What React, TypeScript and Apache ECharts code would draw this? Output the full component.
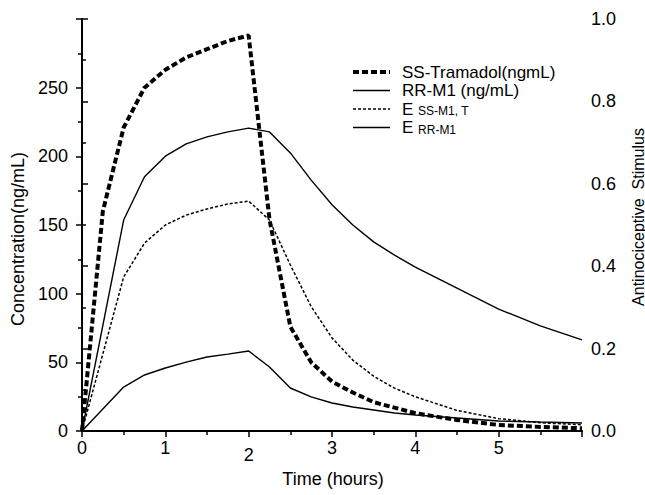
import React, { useEffect, useRef } from "react";
import * as echarts from "echarts";

const tramadolTimes = [0, 0.25, 0.5, 0.75, 1, 1.25, 1.5, 1.75, 2, 2.25, 2.5, 2.75, 3, 3.25, 3.5, 3.75, 4, 4.5, 5, 5.5, 6];
const tramadolConc = [0, 160, 221, 250, 263, 272, 278, 284, 288, 154, 76, 50, 36, 28, 21, 17, 13, 8, 4.4, 3, 2];

const times = [0, 0.5, 0.75, 1, 1.25, 1.5, 1.75, 2, 2.25, 2.5, 2.75, 3, 3.25, 3.5, 3.75, 4, 4.5, 5, 5.5, 6];
const rrM1Conc = [0, 32, 40.8, 45.9, 50.2, 53.9, 56, 58.3, 46.6, 31.3, 24.8, 20.4, 17.5, 15.3, 13.1, 11.6, 9.5, 7.3, 6.5, 5.8];
const eSSM1T = [0, 0.374, 0.456, 0.5, 0.524, 0.539, 0.551, 0.558, 0.512, 0.403, 0.302, 0.226, 0.172, 0.133, 0.104, 0.083, 0.05, 0.03, 0.02, 0.015];
const eRRM1 = [0, 0.512, 0.617, 0.667, 0.697, 0.714, 0.726, 0.735, 0.726, 0.675, 0.609, 0.549, 0.5, 0.459, 0.427, 0.398, 0.347, 0.296, 0.255, 0.221];

const xTickLabels = ["0", "1", "2", "3", "4", "5"];
const leftTickLabels = ["0", "50", "100", "150", "200", "250"];
const rightTickLabels = ["0.0", "0.2", "0.4", "0.6", "0.8", "1.0"];

const xTitle = "Time (hours)";
const leftTitle = "Concentration(ng/mL)";
const rightTitle = "Antinociceptive  Stimulus";

const FONT = "Liberation Sans, Arial, sans-serif";

export default function App() {
  const ref = useRef<HTMLDivElement>(null);
  useEffect(() => {
    if (!ref.current) return;
    const chart = echarts.init(ref.current, undefined, { renderer: "svg" });
    const pair = (xs: number[], ys: number[]) => xs.map((x, i) => [x, ys[i]]);
    const axisCommon = {
      axisLine: { show: true, lineStyle: { color: "#000", width: 2 } },
      axisTick: { show: true, inside: false, length: 6, lineStyle: { color: "#000", width: 1.5 } },
      minorTick: { show: true, splitNumber: 2, length: 4, lineStyle: { color: "#000", width: 1.5 } },
      splitLine: { show: false },
    };
    const legendRows = [
      { y: 72, dash: [6, 3], width: 4, text: "SS-Tramadol(ngmL)", sub: "" },
      { y: 90.5, dash: null, width: 1.3, text: "RR-M1 (ng/mL)", sub: "" },
      { y: 109, dash: [3, 2], width: 1.4, text: "E ", sub: "SS-M1, T" },
      { y: 127.5, dash: null, width: 1.3, text: "E ", sub: "RR-M1" },
    ];
    const graphics: any[] = [];
    legendRows.forEach((r) => {
      graphics.push({
        type: "line",
        shape: { x1: 353, y1: r.y, x2: 390, y2: r.y },
        style: { stroke: "#000", lineWidth: r.width, lineDash: r.dash || undefined },
      });
      graphics.push({
        type: "text",
        x: 402,
        y: r.y,
        style: {
          text: r.sub ? `{m|${r.text}}{s|${r.sub}}` : `{m|${r.text}}`,
          verticalAlign: "middle",
          rich: {
            m: { fontSize: 17, fontFamily: FONT, fill: "#000", lineHeight: 15 },
            s: { fontSize: 12, fontFamily: FONT, fill: "#000", lineHeight: 11, padding: [4, 0, 0, 0] },
          },
        },
      });
    });
    graphics.push({
      type: "text",
      x: 333,
      y: 479,
      style: { text: xTitle, fontSize: 18, fontFamily: FONT, fill: "#000", align: "center", verticalAlign: "middle" },
    });
    graphics.push({
      type: "text",
      x: 18,
      y: 239,
      rotation: Math.PI / 2,
      style: { text: leftTitle, fontSize: 18, fontFamily: FONT, fill: "#000", align: "center", verticalAlign: "middle" },
    });
    graphics.push({
      type: "text",
      x: 638,
      y: 217,
      rotation: Math.PI / 2,
      style: { text: rightTitle, fontSize: 16, fontFamily: FONT, fill: "#000", align: "center", verticalAlign: "middle" },
    });
    chart.setOption({
      animation: false,
      backgroundColor: "#fff",
      grid: { left: 82, right: 63, top: 19, bottom: 64, containLabel: false },
      xAxis: [
        {
          type: "value",
          min: 0,
          max: 6,
          interval: 1,
          position: "bottom",
          ...axisCommon,
          axisLabel: {
            fontSize: 18,
            fontFamily: FONT,
            color: "#000",
            margin: 8,
            formatter: (v: number) => {
              const s = xTickLabels[Math.round(v)];
              if (s === undefined) return "";
              return s === "2" ? `{low|${s}}` : s;
            },
            rich: { low: { fontSize: 18, fontFamily: FONT, color: "#000", padding: [7, 0, 0, 0] } },
          },
        },
        {
          type: "value",
          min: 0,
          max: 6,
          position: "top",
          axisLine: { show: true, lineStyle: { color: "#000", width: 2 } },
          axisTick: { show: false },
          axisLabel: { show: false },
          splitLine: { show: false },
        },
      ],
      yAxis: [
        {
          type: "value",
          min: 0,
          max: 300,
          interval: 50,
          position: "left",
          ...axisCommon,
          axisLabel: {
            fontSize: 18,
            fontFamily: FONT,
            color: "#000",
            margin: 14,
            formatter: (v: number) => leftTickLabels[Math.round(v / 50)] ?? "",
          },
        },
        {
          type: "value",
          min: 0,
          max: 1,
          interval: 0.2,
          position: "right",
          ...axisCommon,
          axisLabel: {
            fontSize: 18,
            fontFamily: FONT,
            color: "#000",
            margin: 9,
            formatter: (v: number) => rightTickLabels[Math.round(v / 0.2)] ?? "",
          },
        },
      ],
      graphic: graphics,
      series: [
        {
          name: "SS-Tramadol(ngmL)",
          type: "line",
          xAxisIndex: 0,
          yAxisIndex: 0,
          data: pair(tramadolTimes, tramadolConc),
          showSymbol: false,
          lineStyle: { color: "#000", width: 4, type: [6, 3] },
          z: 5,
        },
        {
          name: "RR-M1 (ng/mL)",
          type: "line",
          xAxisIndex: 0,
          yAxisIndex: 0,
          data: pair(times, rrM1Conc),
          showSymbol: false,
          lineStyle: { color: "#000", width: 1.4, type: "solid" },
        },
        {
          name: "E SS-M1, T",
          type: "line",
          xAxisIndex: 0,
          yAxisIndex: 1,
          data: pair(times, eSSM1T),
          showSymbol: false,
          lineStyle: { color: "#000", width: 1.5, type: [3, 2] },
        },
        {
          name: "E RR-M1",
          type: "line",
          xAxisIndex: 0,
          yAxisIndex: 1,
          data: pair(times, eRRM1),
          showSymbol: false,
          lineStyle: { color: "#000", width: 1.4, type: "solid" },
        },
      ],
    });
    return () => chart.dispose();
  }, []);
  return <div ref={ref} style={{ width: 645, height: 495, position: "fixed", left: 0, top: 0 }} />;
}
